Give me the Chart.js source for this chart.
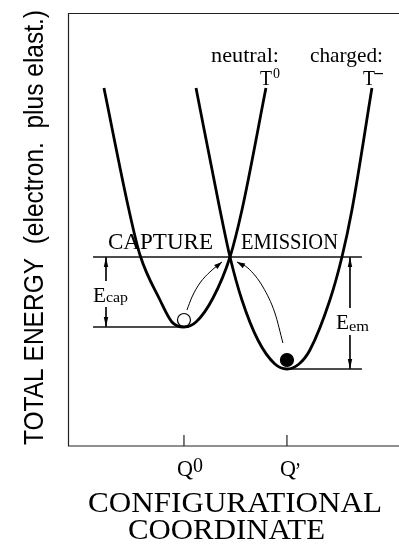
<!DOCTYPE html>
<html>
<head>
<meta charset="utf-8">
<script src="https://cdn.jsdelivr.net/npm/chart.js@4.4.0/dist/chart.umd.min.js"></script>
<style>
  html, body { margin: 0; padding: 0; background: #fff; }
  canvas { display: block; }
</style>
</head>
<body>
<canvas id="ccChart" width="399" height="544"></canvas>
<script>
// configurational coordinate Q (arb. units) vs total energy E (arb. units)
const neutralQ = [0.223, 0.466, 0.573, 0.767, 0.883, 1.0, 1.117, 1.282, 1.447, 1.563, 1.796];
const neutralE = [2.81, 1.59, 1.14, 0.69, 0.47, 0.42, 0.47, 0.71, 1.12, 1.59, 2.81];
const chargedQ = [1.117, 1.350, 1.447, 1.563, 1.718, 1.883, 2.0, 2.117, 2.223, 2.417, 2.534, 2.631, 2.825];
const chargedE = [2.81, 1.59, 1.12, 0.69, 0.29, 0.05, 0.0, 0.05, 0.19, 0.69, 1.12, 1.59, 2.81];

// horizontal energy levels: crossing, neutral minimum, charged minimum
const levelE = [1.12, 0.42, 0.0];
const levelFromQ = [0.117, 0.117, 2.0];
const levelToQ = [2.728, 1.05, 2.728];

// barrier arrows (E_cap, E_em), split where the label sits
const capQ = 0.243;
const capSegE = [[1.12, 0.88], [0.62, 0.42]];
const emQ = 2.612;
const emSegE = [[1.12, 0.61], [0.34, 0.0]];

// curved transition arrows
const captureQ = [1.029, 1.078, 1.155, 1.252, 1.369];
const captureE = [0.59, 0.72, 0.86, 0.97, 1.07];
const emissionQ = [1.515, 1.621, 1.767, 1.883, 1.961];
const emissionE = [1.07, 1.01, 0.82, 0.56, 0.26];

// carrier balls: empty (neutral) and filled (charged)
const ballQ = [1.0, 2.0];
const ballE = [0.49, 0.09];

const tickQ = [1, 2];
const tickSup = ['0', '\u2019'];

const pts = (xs, ys) => xs.map((x, i) => ({ x: x, y: ys[i] }));
const seg = (q, e) => [{ x: q, y: e[0] }, { x: q, y: e[1] }];

const curve = (data, width) => ({
  data: data, showLine: true, borderColor: '#000', borderWidth: width,
  pointRadius: 0, tension: 0.4, cubicInterpolationMode: 'monotone', fill: false
});
const straight = (data, width) => ({
  data: data, showLine: true, borderColor: '#111', borderWidth: width,
  pointRadius: 0, tension: 0, fill: false
});

const datasets = [
  curve(pts(neutralQ, neutralE), 2.8),
  curve(pts(chargedQ, chargedE), 2.8)
];
levelE.forEach((e, i) => {
  datasets.push(straight([{ x: levelFromQ[i], y: e }, { x: levelToQ[i], y: e }], 1.3));
});
capSegE.forEach(s => datasets.push(straight(seg(capQ, s), 1)));
emSegE.forEach(s => datasets.push(straight(seg(emQ, s), 1)));
datasets.push(curve(pts(captureQ, captureE), 1));
datasets.push(curve(pts(emissionQ, emissionE), 1));
datasets.push({
  data: pts(ballQ, ballE), showLine: false,
  pointRadius: 6.5, pointBorderWidth: 1.2,
  pointBackgroundColor: ['#fff', '#000'], pointBorderColor: '#000'
});

function arrowHead(ctx, x, y, angle, len, half) {
  ctx.save();
  ctx.translate(x, y);
  ctx.rotate(angle);
  ctx.beginPath();
  ctx.moveTo(0, 0);
  ctx.lineTo(-len, -half);
  ctx.lineTo(-len, half);
  ctx.closePath();
  ctx.fill();
  ctx.restore();
}

// draw text, stretched to a given width when one is passed
function fitText(ctx, text, left, base, font, width) {
  ctx.save();
  ctx.font = font;
  const w = ctx.measureText(text).width;
  ctx.translate(left, base);
  if (width) ctx.scale(width / w, 1);
  ctx.textBaseline = 'alphabetic';
  ctx.fillText(text, 0, 0);
  ctx.restore();
}

const decorations = {
  id: 'decorations',
  afterDatasetsDraw(chart) {
    const ctx = chart.ctx;
    const a = chart.chartArea;
    const xs = chart.scales.x, ys = chart.scales.y;
    ctx.save();
    ctx.fillStyle = '#000';
    ctx.strokeStyle = '#222';

    // frame: left, top and bottom edges
    ctx.lineWidth = 1.2;
    ctx.beginPath();
    ctx.moveTo(a.right, a.top + 0.5);
    ctx.lineTo(a.left + 0.5, a.top + 0.5);
    ctx.lineTo(a.left + 0.5, a.bottom);
    ctx.lineTo(a.right, a.bottom);
    ctx.stroke();

    // inward ticks and their labels
    tickQ.forEach((q, i) => {
      const px = xs.getPixelForValue(q);
      ctx.beginPath();
      ctx.moveTo(px, a.bottom - 11);
      ctx.lineTo(px, a.bottom);
      ctx.stroke();
      fitText(ctx, 'Q', px - 7, 476, '24px "Liberation Serif"', 16);
      if (i === 0) fitText(ctx, tickSup[i], px + 9, 472, '20px "Liberation Serif"');
      else fitText(ctx, tickSup[i], px + 8, 478, '24px "Liberation Serif"', 6);
    });

    // arrow heads on the barrier lines
    const cx = xs.getPixelForValue(capQ);
    arrowHead(ctx, cx, ys.getPixelForValue(capSegE[0][0]), -Math.PI / 2, 10, 2.2);
    arrowHead(ctx, cx, ys.getPixelForValue(capSegE[1][1]), Math.PI / 2, 10, 2.2);
    const ex = xs.getPixelForValue(emQ);
    arrowHead(ctx, ex, ys.getPixelForValue(emSegE[0][0]), -Math.PI / 2, 10, 2.2);
    arrowHead(ctx, ex, ys.getPixelForValue(emSegE[1][1]), Math.PI / 2, 10, 2.2);

    // arrow heads on the transition paths
    const n = captureQ.length - 1;
    const c1x = xs.getPixelForValue(captureQ[n]), c1y = ys.getPixelForValue(captureE[n]);
    const c0x = xs.getPixelForValue(captureQ[n - 1]), c0y = ys.getPixelForValue(captureE[n - 1]);
    arrowHead(ctx, c1x, c1y, Math.atan2(c1y - c0y, c1x - c0x), 8, 2.6);
    const e1x = xs.getPixelForValue(emissionQ[0]), e1y = ys.getPixelForValue(emissionE[0]);
    const e0x = xs.getPixelForValue(emissionQ[1]), e0y = ys.getPixelForValue(emissionE[1]);
    arrowHead(ctx, e1x, e1y, Math.atan2(e1y - e0y, e1x - e0x), 8, 2.6);

    // curve and region labels
    const serif = '"Liberation Serif"';
    fitText(ctx, 'neutral:', 211, 62, '21px ' + serif, 68);
    fitText(ctx, 'T', 260, 85, '20px ' + serif, 12);
    fitText(ctx, '0', 273, 78, '14px ' + serif);
    fitText(ctx, 'charged:', 310, 62, '21px ' + serif, 73);
    fitText(ctx, 'T', 363, 85, '20px ' + serif, 12);
    ctx.fillRect(375, 73, 8, 1.2);
    fitText(ctx, 'CAPTURE', 108, 249, '23px ' + serif, 105);
    fitText(ctx, 'EMISSION', 241, 249, '23px ' + serif, 97);
    fitText(ctx, 'E', 93, 302, '22px ' + serif, 13);
    fitText(ctx, 'cap', 106, 302, '15px ' + serif, 22);
    fitText(ctx, 'E', 336, 329, '22px ' + serif, 13);
    fitText(ctx, 'em', 349, 331, '15px ' + serif, 20);

    // axis titles
    fitText(ctx, 'CONFIGURATIONAL', 88, 512, '30px ' + serif, 294);
    fitText(ctx, 'COORDINATE', 128, 539, '30px ' + serif, 197);
    ctx.save();
    ctx.translate(43, 445);
    ctx.rotate(-Math.PI / 2);
    fitText(ctx, 'TOTAL ENERGY  (electron.  plus elast.)', 0, 0, '28px "Liberation Sans"', 435);
    ctx.restore();

    ctx.restore();
  }
};

new Chart(document.getElementById('ccChart'), {
  type: 'scatter',
  data: { datasets: datasets },
  options: {
    responsive: false,
    animation: false,
    devicePixelRatio: 1,
    layout: { autoPadding: false, padding: { left: 68, top: 13, right: 0, bottom: 98 } },
    plugins: { legend: { display: false }, tooltip: { enabled: false } },
    scales: {
      x: { type: 'linear', display: false, min: -0.126, max: 3.088 },
      y: { type: 'linear', display: false, min: -0.77, max: 3.56 }
    }
  },
  plugins: [decorations]
});
</script>
</body>
</html>
